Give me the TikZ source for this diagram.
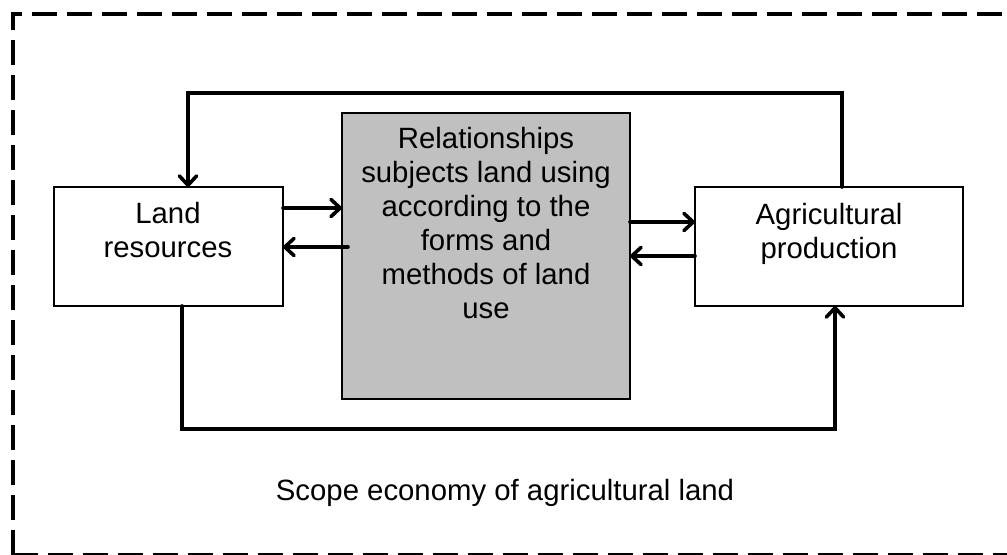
\documentclass[tikz,border=0pt]{standalone}
\usepackage{fontspec}
\setmainfont{Liberation Sans}
\usetikzlibrary{arrows.meta}
\begin{document}
\begin{tikzpicture}[x=0.75pt,y=-0.75pt,
  box/.style={draw=black,line width=2pt,fill=white,inner sep=0pt,outer sep=0pt},
  graybox/.style={box,fill={rgb,255:red,192;green,192;blue,192}},
  txt/.style={inner sep=0pt,align=center,font=\fontsize{22}{25.5}\selectfont},
  conn/.style={line width=2.7pt,line cap=round},
  arr/.style={conn,-{Straight Barb[length=7pt,width=13pt,round]}},
  frame/.style={line width=3pt,dash pattern=on 18.75pt off 7.5pt}
]
\useasboundingbox (0,0) rectangle (1007,554);
\draw[frame] (13,555) -- (13,14) -- (1030,14);
\draw[frame] (13,555) -- (1030,555);

\node[box,minimum width=171.75pt,minimum height=89.25pt] (land) at (168.5,246.5) {};
\node[graybox,minimum width=216pt,minimum height=214.5pt] (rel) at (486,256) {};
\node[box,minimum width=201pt,minimum height=89.25pt] (agri) at (829,246.5) {};

\node[txt] (landt) at (168,230.5) {Land\\resources};
\node[txt] (relt) at (486,223.5) {Relationships\\subjects land using\\according to the\\forms and\\methods of land\\use};
\node[txt] (agrit) at (829,233.5) {Agricultural\\production};
\node[txt,anchor=base] (scope) at (505,500) {Scope economy of agricultural land};

\coordinate (tr) at (842,93);
\coordinate (tl) at (188,93);
\coordinate (bl) at (182,429);
\coordinate (br) at (835,429);
\coordinate (y1) at (0,208);
\coordinate (s2) at (348,247);
\coordinate (y3) at (0,222);
\coordinate (y4) at (0,256);

\draw[arr] (agri.north -| tr) |- (tl) -- (land.north -| tl);
\draw[arr] (land.south -| bl) |- (br) -- (agri.south -| br);
\draw[arr] (land.east |- y1) -- (rel.west |- y1);
\draw[arr] (s2) -- (land.east |- s2);
\draw[arr] (rel.east |- y3) -- (agri.west |- y3);
\draw[arr] (agri.west |- y4) -- (rel.east |- y4);
\end{tikzpicture}
\end{document}
